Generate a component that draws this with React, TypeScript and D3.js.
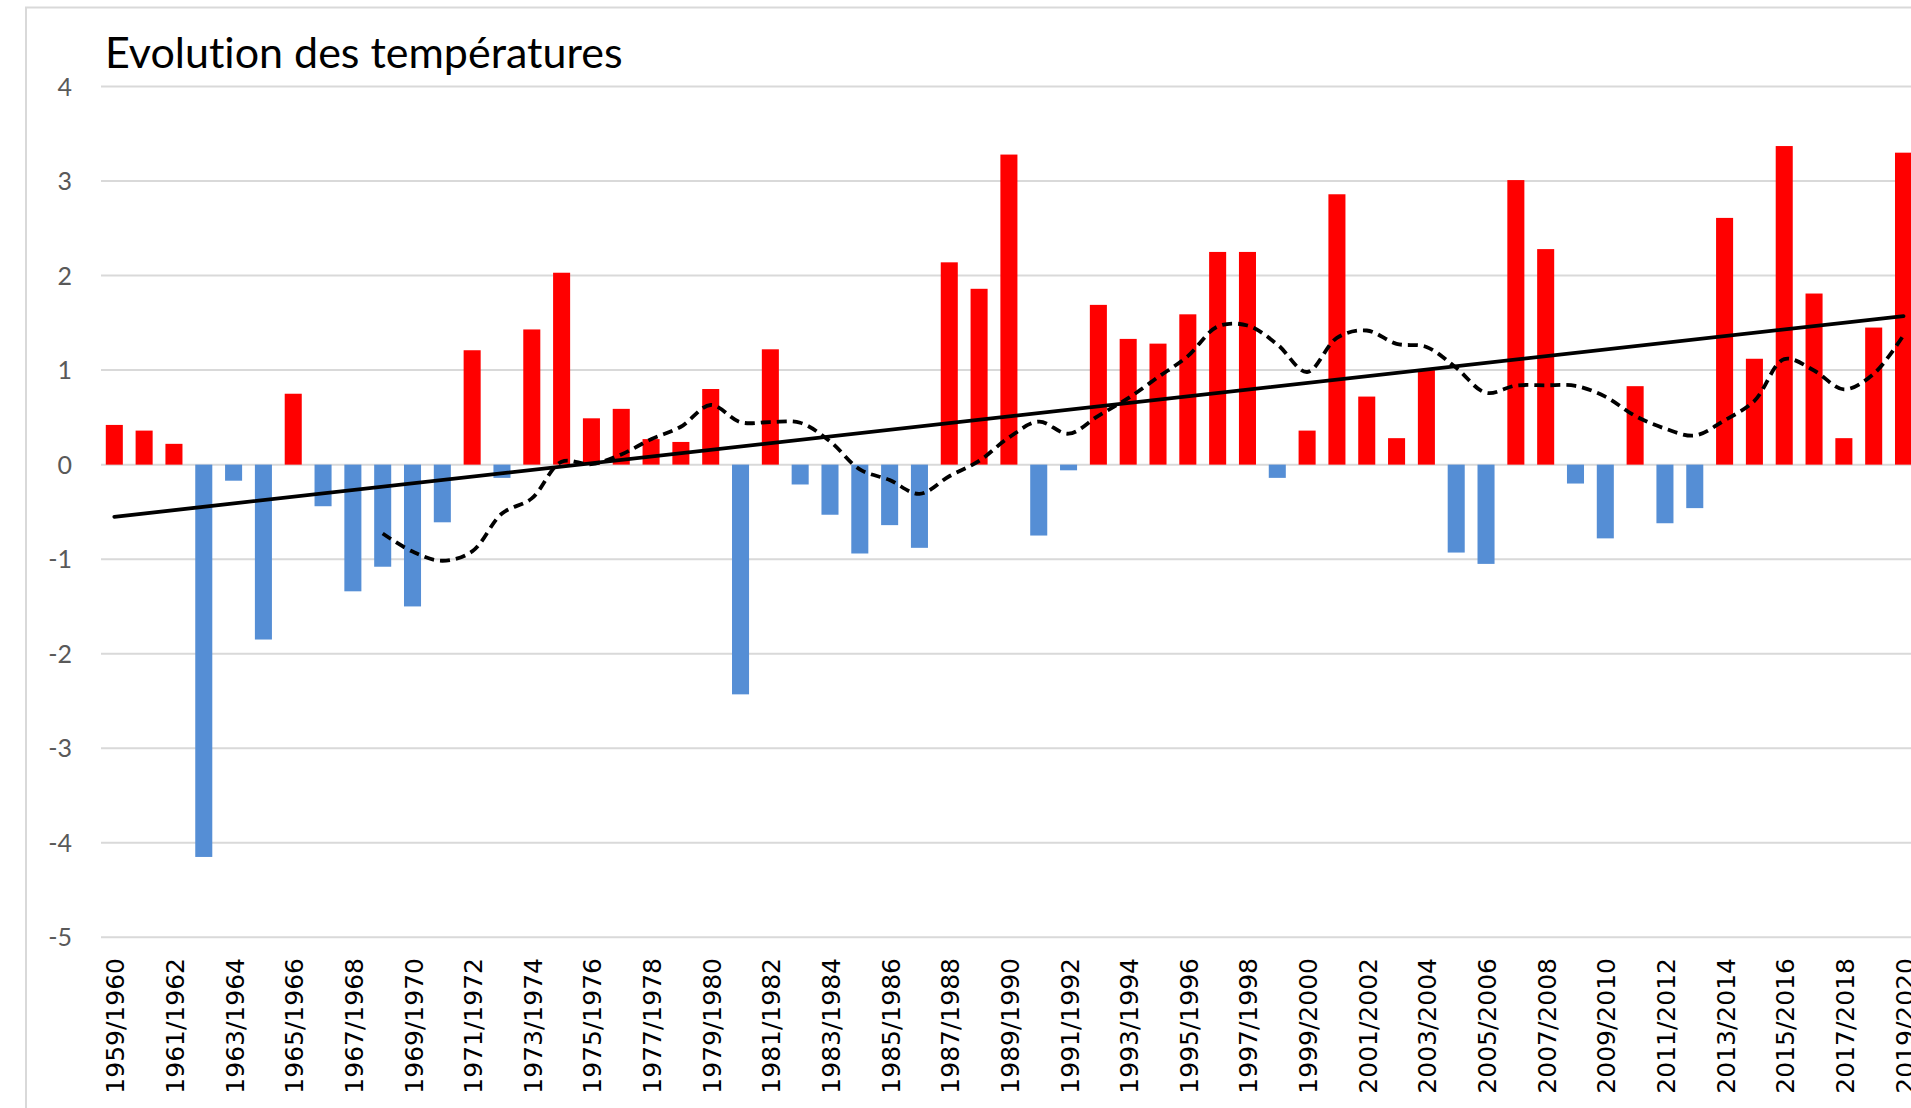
import React from 'react';
import * as d3 from 'd3';

const title = 'Evolution des températures';

const seasons = [
  '1959/1960', '1960/1961', '1961/1962', '1962/1963', '1963/1964', '1964/1965', '1965/1966', '1966/1967',
  '1967/1968', '1968/1969', '1969/1970', '1970/1971', '1971/1972', '1972/1973', '1973/1974', '1974/1975',
  '1975/1976', '1976/1977', '1977/1978', '1978/1979', '1979/1980', '1980/1981', '1981/1982', '1982/1983',
  '1983/1984', '1984/1985', '1985/1986', '1986/1987', '1987/1988', '1988/1989', '1989/1990', '1990/1991',
  '1991/1992', '1992/1993', '1993/1994', '1994/1995', '1995/1996', '1996/1997', '1997/1998', '1998/1999',
  '1999/2000', '2000/2001', '2001/2002', '2002/2003', '2003/2004', '2004/2005', '2005/2006', '2006/2007',
  '2007/2008', '2008/2009', '2009/2010', '2010/2011', '2011/2012', '2012/2013', '2013/2014', '2014/2015',
  '2015/2016', '2016/2017', '2017/2018', '2018/2019', '2019/2020',
];

// temperature anomaly per season
const anomalies = [
  0.42, 0.36, 0.22, -4.15, -0.17, -1.85, 0.75, -0.44, -1.34, -1.08,
  -1.50, -0.61, 1.21, -0.14, 1.43, 2.03, 0.49, 0.59, 0.27, 0.24,
  0.80, -2.43, 1.22, -0.21, -0.53, -0.94, -0.64, -0.88, 2.14, 1.86,
  3.28, -0.75, -0.06, 1.69, 1.33, 1.28, 1.59, 2.25, 2.25, -0.14,
  0.36, 2.86, 0.72, 0.28, 1.00, -0.93, -1.05, 3.01, 2.28, -0.20,
  -0.78, 0.83, -0.62, -0.46, 2.61, 1.12, 3.37, 1.81, 0.28, 1.45,
  3.30,
];

const yTicks = [-5, -4, -3, -2, -1, 0, 1, 2, 3, 4];
const maPeriod = 10;

const W = 1911;
const H = 1108;

export default function App() {
  const x = d3.scaleBand<string>()
    .domain(seasons)
    .range([99.4, 99.4 + seasons.length * 29.82])
    .paddingInner(0.4286)
    .paddingOuter(0.2143);
  const y = d3.scaleLinear().domain([-5, 4]).range([937.3, 86.5]);
  const cx = (s: string) => (x(s) ?? 0) + x.bandwidth() / 2;

  // linear trend (least squares on index)
  const n = anomalies.length;
  const idx = d3.range(n);
  const mx = d3.mean(idx)!;
  const my = d3.mean(anomalies)!;
  const slope = d3.sum(idx, i => (i - mx) * (anomalies[i] - my)) / d3.sum(idx, i => (i - mx) ** 2);
  const trend = (i: number) => my + slope * (i - mx);

  // moving average over 10 seasons
  const ma = idx.slice(maPeriod - 1).map(i => ({
    s: seasons[i],
    v: d3.mean(anomalies.slice(i - maPeriod + 1, i + 1))!,
  }));
  const maLine = d3.line<{ s: string; v: number }>()
    .x(d => cx(d.s))
    .y(d => y(d.v))
    .curve(d3.curveCatmullRom.alpha(0.5));

  return (
    <svg width={W} height={H} style={{ position: 'absolute', left: 0, top: 0, display: 'block', background: '#fff' }}>
      <rect x={26} y={7.5} width={2000} height={1300} fill="#fff" stroke="#d9d9d9" strokeWidth={2} />

      <text x={105} y={68} fontFamily="Lato, 'Open Sans', sans-serif" fontSize={43} fill="#000"
        style={{ fontVariantLigatures: 'none' }}>{title}</text>

      {/* grid + y labels */}
      {yTicks.map(t => (
        <g key={t}>
          <line x1={101} x2={W} y1={y(t)} y2={y(t)} stroke="#d9d9d9" strokeWidth={2} />
          <text x={72} y={y(t)} dy="0.36em" textAnchor="end" fontFamily="Lato, 'Open Sans', sans-serif"
            fontSize={25} fill="#595959">{t}</text>
        </g>
      ))}

      {/* bars */}
      {seasons.map((s, i) => {
        const v = anomalies[i];
        return (
          <rect key={s} x={x(s)} width={x.bandwidth()}
            y={Math.min(y(v), y(0))} height={Math.abs(y(v) - y(0))}
            fill={v >= 0 ? '#ff0000' : '#558ed5'} />
        );
      })}

      {/* trend line */}
      <line x1={cx(seasons[0])} y1={y(trend(0))} x2={cx(seasons[n - 1])} y2={y(trend(n - 1))}
        stroke="#000" strokeWidth={3.8} strokeLinecap="round" />

      {/* moving average */}
      <path d={maLine(ma) ?? ''} fill="none" stroke="#000" strokeWidth={3.8} strokeDasharray="10 6" />

      {/* x labels, every other season */}
      {seasons.filter((_, i) => i % 2 === 0).map(s => (
        <text key={s} transform={`translate(${cx(s) + 10},958) rotate(-90)`} textAnchor="end"
          fontFamily="'DejaVu Sans', Verdana, sans-serif" fontSize={25} fill="#000">{s}</text>
      ))}
    </svg>
  );
}
